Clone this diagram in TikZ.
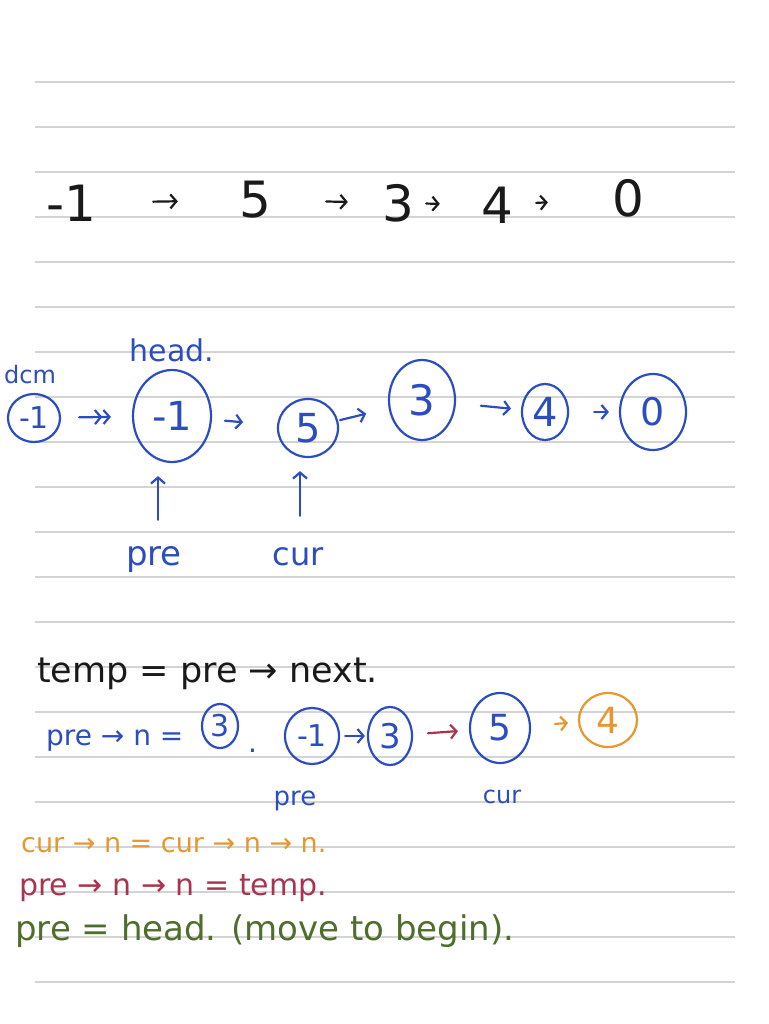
\documentclass[tikz,border=0pt]{standalone}
\usepackage{fontspec}
\setmainfont{DejaVu Sans}
\usetikzlibrary{arrows.meta,shapes.geometric}

\definecolor{ink}{HTML}{1A1A1A}
\definecolor{inkblue}{HTML}{2C4DC0}
\definecolor{inkorange}{HTML}{E8962F}
\definecolor{inkred}{HTML}{A8344F}
\definecolor{inkgreen}{HTML}{4E6E2B}
\newcommand{\fsz}[1]{\fontsize{#1}{#1}\selectfont}

\begin{document}
\begin{tikzpicture}[x=1pt,y=-1pt]

\useasboundingbox[fill=white] (0,0) rectangle (768,1024);

\tikzstyle{every node}=[inner sep=0pt,anchor=center];
\tikzstyle{paperline}=[draw=black!17,line width=1.3pt];
\tikzstyle{num}=[font=\fsz{50},minimum width=56pt,text=ink];
\tikzstyle{ring}=[draw=inkblue,text=inkblue,shape=ellipse,line width=2.2pt,inner sep=0pt];
\tikzstyle{note}=[anchor=base west];

% ruled paper
\foreach \k in {0,...,20}
  \draw[paperline] (35,{82+45*\k}) -- (735,{82+45*\k});

\tikzset{every edge/.append style = {-{Straight Barb[length=6pt,width=14pt]},line width=2.2pt,line cap=round}};

% Row 1: the plain list
\node[num] (t0) at (71,203) {-1};
\node[num] (t1) at (255,200) {5};
\node[num] (t2) at (398,203) {3};
\node[num] (t3) at (497,205) {4};
\node[num] (t4) at (628,198) {0};

\path[ink]
  (t0) edge[shorten <=54pt,shorten >=49pt] (t1)
  (t1) edge[shorten <=43pt,shorten >=22pt] (t2)
  (t2) edge[shorten <=0pt,shorten >=29pt] (t3)
  (t3) edge[shorten <=11pt,shorten >=52pt] (t4);

% Row 2: dummy node in front of head
\node[font=\fsz{24},text=inkblue] (dmlab) at (30,375) {dcm};
\node[font=\fsz{30},text=inkblue] (headlab) at (172,350) {head.};

\node[ring,minimum width=52pt,minimum height=48pt,font=\fsz{30}] (dm) at (34,418) {-1};
\node[ring,minimum width=78pt,minimum height=92pt,font=\fsz{40}] (hd) at (172,416) {-1};
\node[ring,minimum width=60pt,minimum height=58pt,font=\fsz{40}] (n5) at (308,428) {5};
\node[ring,minimum width=66pt,minimum height=80pt,font=\fsz{42}] (n3) at (422,400) {3};
\node[ring,minimum width=46pt,minimum height=56pt,font=\fsz{40}] (n4) at (545,412) {4};
\node[ring,minimum width=66pt,minimum height=76pt,font=\fsz{38}] (n0) at (653,412) {0};

\path[inkblue]
  (dm) edge[-{Straight Barb[length=6pt,width=14pt]Straight Barb[length=6pt,width=14pt]},shorten <=18pt,shorten >=21pt] (hd)
  (hd) edge[shorten <=13pt,shorten >=34pt] (n5)
  (n5) edge[shorten <=2pt,shorten >=23pt] (n3)
  (n3) edge[shorten <=25pt,shorten >=10pt] (n4)
  (n4) edge[shorten <=25pt,shorten >=10pt] (n0);

% pointers
\node[font=\fsz{34},text=inkblue,anchor=base] (pre) at (154,565) {pre};
\node[font=\fsz{32},text=inkblue,anchor=base] (cur) at (298,565) {cur};

\path[inkblue]
  ([xshift=4pt]pre.north) edge[shorten <=26pt,shorten >=13pt] ([xshift=4pt]pre.north |- hd.south)
  ([xshift=2pt]cur.north) edge[shorten <=31pt,shorten >=13pt] ([xshift=2pt]cur.north |- n5.south);

% Row 3: after one swap
\node[note,font=\fsz{35},text=ink] (tmp) at (37,682) {temp = pre → next.};

\node[note,font=\fsz{28},text=inkblue] (eq) at (46,745) {pre → n =};
\node[ring,minimum width=36pt,minimum height=44pt,font=\fsz{30}] (e3) at (220,726) {3};
\node[note,font=\fsz{28},text=inkblue] (eqdot) at (248,752) {.};

\node[ring,minimum width=54pt,minimum height=56pt,font=\fsz{30}] (hd2) at (312,736) {-1};
\node[ring,minimum width=44pt,minimum height=58pt,font=\fsz{34}] (r3) at (390,736) {3};
\node[ring,minimum width=60pt,minimum height=70pt,font=\fsz{36}] (r5) at (500,728) {5};
\node[ring,draw=inkorange,text=inkorange,minimum width=58pt,minimum height=54pt,font=\fsz{36}] (r4) at (608,720) {4};

\path
  (hd2) edge[inkblue,shorten <=5pt,shorten >=2pt] (r3)
  (r3) edge[inkred,shorten <=15pt,shorten >=11pt] (r5)
  (r5) edge[inkorange,shorten <=24pt,shorten >=10pt] (r4);

\node[font=\fsz{26},text=inkblue,anchor=base] (pre2) at (295,805) {pre};
\node[font=\fsz{24},text=inkblue,anchor=base] (cur2) at (502,803) {cur};

% the three steps
\node[note,font=\fsz{27},text=inkorange] (s1) at (21,852) {cur → n = cur → n → n.};
\node[note,font=\fsz{30},text=inkred] (s2) at (19,895) {pre → n → n = temp.};
\node[note,font=\fsz{34},text=inkgreen] (s3) at (15,940) {pre = head. (move to begin).};

\end{tikzpicture}
\end{document}
